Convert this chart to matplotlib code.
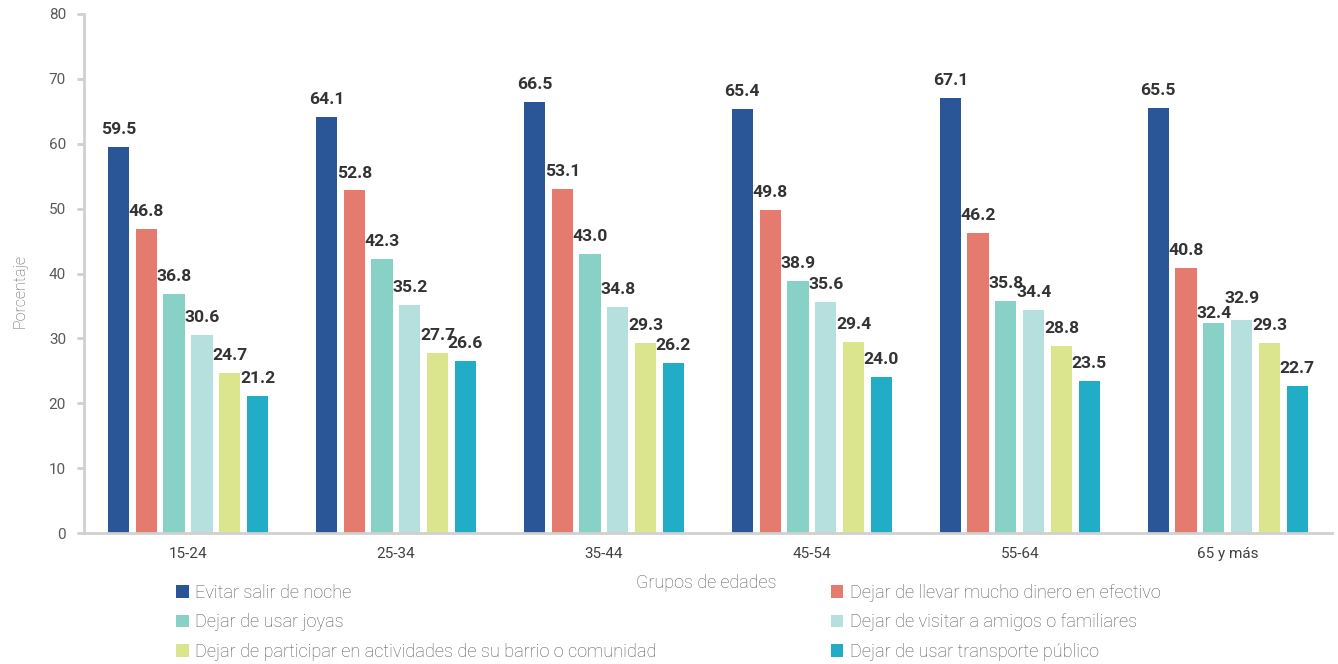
import numpy as np
import matplotlib
matplotlib.use("Agg")
import matplotlib.pyplot as plt

plt.rcParams['font.family'] = ['Roboto', 'DejaVu Sans']

# Datos
grupos = ['15-24', '25-34', '35-44', '45-54', '55-64', '65 y más']
series = [
    'Evitar salir de noche',
    'Dejar de llevar mucho dinero en efectivo',
    'Dejar de usar joyas',
    'Dejar de visitar a amigos o familiares',
    'Dejar de participar en actividades de su barrio o comunidad',
    'Dejar de usar transporte público',
]
evitar_noche = [59.5, 64.1, 66.5, 65.4, 67.1, 65.5]
llevar_dinero = [46.8, 52.8, 53.1, 49.8, 46.2, 40.8]
usar_joyas = [36.8, 42.3, 43.0, 38.9, 35.8, 32.4]
visitar_amigos = [30.6, 35.2, 34.8, 35.6, 34.4, 32.9]
participar_barrio = [24.7, 27.7, 29.3, 29.4, 28.8, 29.3]
transporte_publico = [21.2, 26.6, 26.2, 24.0, 23.5, 22.7]

valores = [evitar_noche, llevar_dinero, usar_joyas, visitar_amigos,
           participar_barrio, transporte_publico]
colores = ['#2A5597', '#E57B6F', '#88D1C6', '#B5E0DE', '#DAE58E', '#21ADC6']

fig = plt.figure(figsize=(13.38, 6.64), dpi=100)
ax = fig.add_axes([0.0628, 0.197, 0.9325, 0.782])

x = np.arange(len(grupos))
paso = 0.1337
ancho = 0.102
handles = []
for i, (vals, col) in enumerate(zip(valores, colores)):
    pos = x + (i - 2.5) * paso
    b = ax.bar(pos, vals, width=ancho, color=col, label=series[i])
    handles.append(b)
    for j, (px, v) in enumerate(zip(pos, vals)):
        off = 2.0
        # en el ultimo grupo las etiquetas de joyas y visitas se separan
        if j == 5 and i == 2:
            off = 0.8
        if j == 5 and i == 3:
            off = 2.6
        ax.text(px, v + off, f'{v:.1f}', ha='center', va='baseline',
                fontsize=12.6, fontweight='bold', color='#333333')

ax.set_xlim(-0.5, 5.5)
ax.set_ylim(0, 80)
ax.set_yticks(range(0, 81, 10))
ax.set_xticks(x)
ax.set_xticklabels(grupos, fontsize=11, color='#404040')
ax.tick_params(axis='x', length=0, pad=10)
ax.tick_params(axis='y', length=5, width=2, color='#d0d0d0', labelsize=11,
               labelcolor='#595959', pad=8)
for s in ['top', 'right']:
    ax.spines[s].set_visible(False)
for s in ['left', 'bottom']:
    ax.spines[s].set_color('#d0d0d0')
    ax.spines[s].set_linewidth(2)

ax.set_ylabel('Porcentaje', fontsize=11.5, color='#595959', fontweight='light')
ax.yaxis.set_label_coords(-0.045, 0.466)
fig.text(0.528, 0.122, 'Grupos de edades', ha='center', va='center', fontsize=13,
         color='#595959', fontweight='light')

orden = [0, 2, 4, 1, 3, 5]
leg = fig.legend([handles[i] for i in orden], [series[i] for i in orden],
                 ncol=2, loc='upper left', bbox_to_anchor=(0.1315, 0.1205),
                 frameon=False, fontsize=13.1, handlelength=0.7, handleheight=0.7,
                 handletextpad=0.35, columnspacing=9.57, labelspacing=0.62,
                 borderaxespad=0, borderpad=0)
for t in leg.get_texts():
    t.set_color('#595959')
    t.set_fontweight('light')

fig.savefig('out.png', dpi=100)
